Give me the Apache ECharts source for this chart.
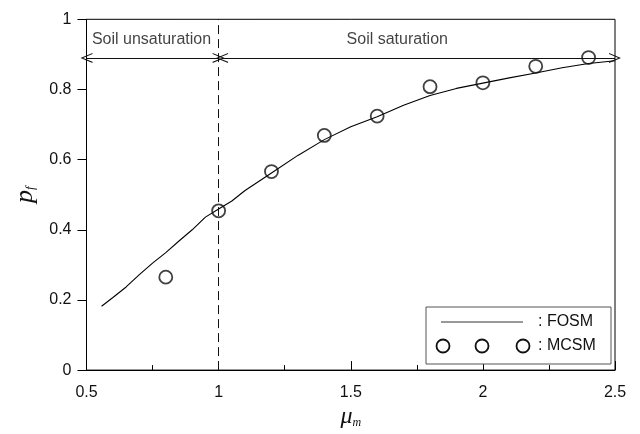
<!DOCTYPE html>
<html>
<head>
<meta charset="utf-8">
<script src="https://cdn.jsdelivr.net/npm/echarts@6/dist/echarts.min.js"></script>
<style>html,body{margin:0;padding:0;background:#fff}#c{width:640px;height:434px}</style>
</head>
<body>
<div id="c"></div>
<script>
// FOSM curve (mu_m, p_f)
const fosmMu = [0.557,0.6,0.65,0.7,0.75,0.8,0.85,0.9,0.95,1.0,1.05,1.1,1.2,1.3,1.4,1.5,1.6,1.7,1.8,1.9,2.0,2.1,2.2,2.3,2.4,2.5];
const fosmPf = [0.182,0.207,0.237,0.272,0.305,0.335,0.368,0.400,0.436,0.459,0.482,0.512,0.562,0.612,0.657,0.694,0.722,0.755,0.783,0.803,0.818,0.833,0.847,0.862,0.874,0.882];
// MCSM points
const mcsmMu = [0.8,1.0,1.2,1.4,1.6,1.8,2.0,2.2,2.4];
const mcsmPf = [0.265,0.454,0.566,0.669,0.724,0.808,0.819,0.866,0.891];
// annotations
const boundaryMu = 1.0;
const arrowPf = 0.89;
const regionNames = ['Soil unsaturation','Soil saturation'];
const regionStart = [0.5, 1.013];
const regionEnd = [1.0, 2.5];
const regionLabelMu = [0.746, 1.676];
const regionLabelPf = 0.941;
const xTicks = [0.5,1,1.5,2,2.5];
const yTicks = [0,0.2,0.4,0.6,0.8,1];

const FONT = 'Liberation Sans, Arial, Helvetica, sans-serif';
const chevron = 'path://M0,12 L6,0 L12,12 L10.6,12 L6,2.6 L1.4,12 Z';

const chart = echarts.init(document.getElementById('c'));
chart.setOption({
  animation: false,
  backgroundColor: '#fff',
  grid: {left: 86.5, right: 25, top: 19.3, bottom: 61.3, show: true, borderColor: '#000', borderWidth: 1},
  xAxis: {
    type: 'value', min: xTicks[0], max: xTicks[xTicks.length-1], interval: 0.5,
    axisLine: {lineStyle: {color: '#000', width: 1}},
    axisTick: {inside: true, length: 9, lineStyle: {color: '#000'}},
    minorTick: {show: true, splitNumber: 2, length: 5, lineStyle: {color: '#000'}},
    splitLine: {show: false},
    axisLabel: {color: '#111', fontFamily: FONT, fontSize: 16, margin: 14},
    name: '{a|μ}{b|m}', nameLocation: 'middle', nameGap: 22,
    nameTextStyle: {rich: {
      a: {fontFamily: 'Liberation Serif, Times New Roman, serif', fontStyle: 'italic', fontSize: 24, color: '#111'},
      b: {fontFamily: 'Liberation Serif, Times New Roman, serif', fontStyle: 'italic', fontSize: 12, color: '#111', verticalAlign: 'bottom', padding: [10,0,0,0]}
    }}
  },
  yAxis: {
    type: 'value', min: 0, max: 1, interval: 0.2,
    axisLine: {show: true, lineStyle: {color: '#000', width: 1}},
    axisTick: {show: true, inside: false, length: 9, lineStyle: {color: '#000'}},
    splitLine: {show: false},
    axisLabel: {color: '#111', fontFamily: FONT, fontSize: 16, margin: 15},
    name: '{a|p}{b|f}', nameLocation: 'middle', nameGap: 42,
    nameTextStyle: {rich: {
      a: {fontFamily: 'Liberation Serif, Times New Roman, serif', fontStyle: 'italic', fontSize: 26, color: '#111'},
      b: {fontFamily: 'Liberation Serif, Times New Roman, serif', fontStyle: 'italic', fontSize: 13, color: '#111', padding: [10,0,0,0]}
    }}
  },
  series: [
    {
      name: 'FOSM', type: 'line', showSymbol: false, symbol: 'none', smooth: false,
      data: fosmMu.map((m,i)=>[m, fosmPf[i]]),
      lineStyle: {color: '#000', width: 1.1},
      markLine: {
        silent: true, symbol: 'none', animation: false,
        label: {show: false},
        lineStyle: {color: '#111', width: 1, type: [9,5]},
        data: [{xAxis: boundaryMu}]
      }
    },
    {
      name: 'MCSM', type: 'scatter', symbol: 'circle', symbolSize: 13,
      data: mcsmMu.map((m,i)=>[m, mcsmPf[i]]),
      itemStyle: {color: 'rgba(0,0,0,0)', borderColor: '#111', borderWidth: 1.8},
      z: 3
    },
    {
      name: 'regions', type: 'scatter', symbolSize: 0, silent: true,
      data: regionNames.map((n,i)=>({value: [regionLabelMu[i], regionLabelPf], name: n})),
      label: {show: true, position: 'inside', formatter: p => p.name, color: '#111', fontFamily: FONT, fontSize: 16},
      markLine: {
        silent: true, animation: false, symbol: [chevron, chevron], symbolSize: [10, 12],
        label: {show: false},
        lineStyle: {color: '#111', width: 1, type: 'solid'},
        itemStyle: {color: '#111'},
        data: regionNames.map((n,i)=>[{coord: [regionStart[i], arrowPf]}, {coord: [regionEnd[i], arrowPf]}])
      }
    }
  ],
  graphic: [
    {type: 'rect', shape: {x: 426, y: 307, width: 185, height: 57}, style: {fill: '#fff', stroke: '#555', lineWidth: 1}, z: 10},
    {type: 'line', shape: {x1: 441, y1: 322, x2: 523, y2: 322}, style: {stroke: '#333', lineWidth: 1}, z: 11},
    {type: 'text', x: 538, y: 322, style: {text: ': FOSM', fill: '#111', font: '16px ' + FONT, textVerticalAlign: 'middle'}, z: 11},
    {type: 'circle', shape: {cx: 443, cy: 346, r: 6.5}, style: {fill: 'none', stroke: '#111', lineWidth: 1.8}, z: 11},
    {type: 'circle', shape: {cx: 482, cy: 346, r: 6.5}, style: {fill: 'none', stroke: '#111', lineWidth: 1.8}, z: 11},
    {type: 'circle', shape: {cx: 523, cy: 346, r: 6.5}, style: {fill: 'none', stroke: '#111', lineWidth: 1.8}, z: 11},
    {type: 'text', x: 538, y: 346, style: {text: ': MCSM', fill: '#111', font: '16px ' + FONT, textVerticalAlign: 'middle'}, z: 11}
  ]
});
</script>
</body>
</html>
